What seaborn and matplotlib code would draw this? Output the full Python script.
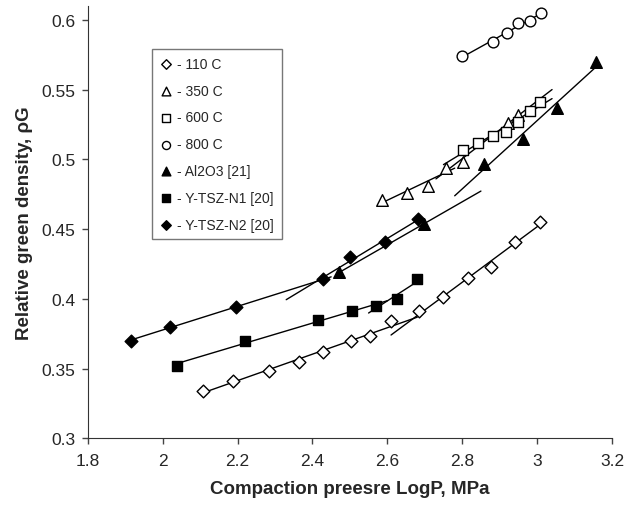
"""
Relative green density vs compaction pressure, with linear trend segments
"""

import numpy as np
import pandas as pd
import matplotlib
matplotlib.use('Agg')
import matplotlib.pyplot as plt
import seaborn as sns

sns.set_style('ticks')
plt.rcParams['font.family'] = ['Liberation Sans', 'DejaVu Sans']

# Data (x = log P, y = relative green density)
x_110 = [2.107, 2.187, 2.283, 2.363, 2.429, 2.504, 2.555, 2.611, 2.685,
         2.749, 2.816, 2.877, 2.941, 3.008]
y_110 = [0.334, 0.341, 0.348, 0.355, 0.362, 0.370, 0.373, 0.384, 0.391,
         0.401, 0.415, 0.423, 0.441, 0.455]

x_350 = [2.587, 2.653, 2.709, 2.757, 2.803, 2.923, 2.949]
y_350 = [0.471, 0.476, 0.481, 0.494, 0.498, 0.526, 0.532]

x_600 = [2.803, 2.843, 2.883, 2.917, 2.949, 2.981, 3.008]
y_600 = [0.507, 0.512, 0.517, 0.520, 0.527, 0.535, 0.541]

x_800 = [2.800, 2.883, 2.920, 2.949, 2.981, 3.011]
y_800 = [0.574, 0.584, 0.591, 0.598, 0.599, 0.605]

x_al = [2.472, 2.699, 2.859, 2.963, 3.053, 3.157]
y_al = [0.419, 0.454, 0.497, 0.515, 0.537, 0.570]

x_n1 = [2.037, 2.221, 2.416, 2.507, 2.571, 2.627, 2.680]
y_n1 = [0.352, 0.370, 0.385, 0.391, 0.395, 0.400, 0.414]

x_n2 = [1.915, 2.019, 2.197, 2.429, 2.501, 2.595, 2.683]
y_n2 = [0.370, 0.380, 0.394, 0.414, 0.430, 0.441, 0.457]

labels = ['- 110 C', '- 350 C', '- 600 C', '- 800 C',
          '- Al2O3 [21]', '- Y-TSZ-N1 [20]', '- Y-TSZ-N2 [20]']

# (series x, series y, first index, last index, line start, line end)
fits = [
    (x_110, y_110, 0, 8, 2.10, 2.68),
    (x_110, y_110, 8, 14, 2.61, 3.01),
    (x_350, y_350, 0, 4, 2.58, 2.78),
    (x_350, y_350, 3, 7, 2.73, 3.04),
    (x_600, y_600, 0, 7, 2.75, 3.04),
    (x_800, y_800, 0, 6, 2.80, 3.01),
    (x_al, y_al, 0, 2, 2.47, 2.85),
    (x_al, y_al, 2, 6, 2.78, 3.16),
    (x_n1, y_n1, 0, 5, 2.03, 2.60),
    (x_n1, y_n1, 4, 7, 2.55, 2.68),
    (x_n2, y_n2, 0, 4, 1.91, 2.45),
    (x_n2, y_n2, 3, 7, 2.33, 2.69),
]

fig = plt.figure(figsize=(6.27, 5.06), dpi=100)
ax = fig.add_axes([0.140, 0.132, 0.836, 0.854])

# Trend lines
for xs, ys, i0, i1, xa, xb in fits:
    k, b = np.polyfit(xs[i0:i1], ys[i0:i1], 1)
    xx = np.array([xa, xb])
    ax.plot(xx, k * xx + b, color='black', lw=1, zorder=1)

series = [
    (x_110, y_110, 'D', 'white', 42),
    (x_350, y_350, '^', 'white', 70),
    (x_600, y_600, 's', 'white', 60),
    (x_800, y_800, 'o', 'white', 60),
    (x_al, y_al, '^', 'black', 70),
    (x_n1, y_n1, 's', 'black', 60),
    (x_n2, y_n2, 'D', 'black', 42),
]

for (xs, ys, m, fc, s), lab in zip(series, labels):
    df = pd.DataFrame({'x': xs, 'y': ys})
    sns.scatterplot(data=df, x='x', y='y', marker=m, s=s, color=fc,
                    edgecolor='black', linewidth=1.0, label=lab, ax=ax,
                    zorder=3)

ax.set_xlim(1.8, 3.2)
ax.set_ylim(0.3, 0.61)
ax.set_xticks([1.8, 2.0, 2.2, 2.4, 2.6, 2.8, 3.0, 3.2])
ax.set_xticklabels(['1.8', '2', '2.2', '2.4', '2.6', '2.8', '3', '3.2'])
ax.set_yticks([0.3, 0.35, 0.4, 0.45, 0.5, 0.55, 0.6])
ax.set_yticklabels(['0.3', '0.35', '0.4', '0.45', '0.5', '0.55', '0.6'])
ax.tick_params(labelsize=12.5, color='#444444', length=4, width=1)
ax.tick_params(axis='x', pad=7)
ax.tick_params(axis='y', pad=5)
sns.despine(ax=ax)
for sp in ['left', 'bottom']:
    ax.spines[sp].set_color('#333333')

ax.set_xlabel('Compaction preesre LogP, MPa', fontsize=13.5,
              fontweight='bold', labelpad=8)
ax.set_ylabel('Relative green density, \u03c1G', fontsize=13.5,
              fontweight='bold', labelpad=6)

leg = ax.legend(loc='upper left', bbox_to_anchor=(0.122, 0.900),
                fontsize=10, frameon=True, fancybox=False,
                handletextpad=0.3, handlelength=1.0, labelspacing=0.92,
                borderpad=0.55, borderaxespad=0, markerscale=0.75)
leg.get_frame().set_edgecolor('#555555')
leg.get_frame().set_linewidth(1.0)

fig.savefig('out.png', dpi=100)
